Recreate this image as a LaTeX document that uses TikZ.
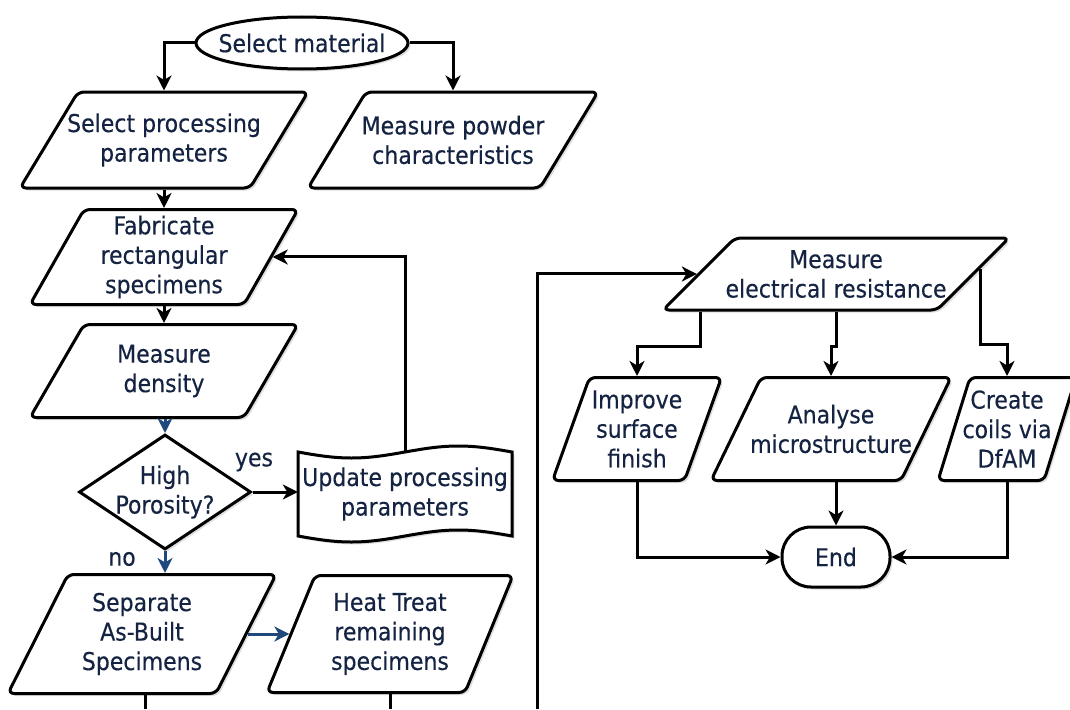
\documentclass[tikz,border=0pt]{standalone}
\usepackage{fontspec}
\setmainfont[FakeBold=0.3]{DejaVu Sans Condensed}
\usetikzlibrary{shapes.geometric,arrows.meta,shadows,calc}
\definecolor{txtc}{RGB}{20,35,65}
\definecolor{blu}{RGB}{31,73,125}
\tikzset{
  fnt/.style={text=txtc, font=\fontsize{24.5}{29.5}\selectfont, align=center},
  lbl/.style={fnt, inner sep=0pt},
  T/.style={label={[lbl]center:#1}},
  shd/.style={drop shadow={shadow xshift=2.5pt,shadow yshift=-2.5pt,opacity=0.25}},
  base/.style={draw=black, line width=3pt, fill=white, inner sep=0pt, shd},
  para/.style n args={4}{base, trapezium, trapezium stretches body, rounded corners=6pt,
     minimum width=#1pt,
     trapezium left angle={atan(#2/#3)}, trapezium right angle={180-atan(#2/#3)}, T={#4}},
  ell/.style={base, ellipse, minimum width=212pt, minimum height=52pt},
  term/.style={base, rectangle, rounded corners=29pt, minimum width=108pt, minimum height=60pt},
  dia/.style={base, diamond, minimum width=172pt, minimum height=115pt},
  ln/.style={draw=black, line width=3pt},
  arr/.style={ln, -{Stealth[length=15pt,width=15pt,inset=4.5pt]}},
  arrb/.style={arr, draw=blu},
}
\newcommand{\hh}[1]{\rule{0pt}{#1pt}}
\begin{document}
\begin{tikzpicture}[x=1pt,y=-1pt]
\useasboundingbox (0,0) rectangle (1070,709);

% nodes
\node[ell, T={Select material}] (selmat) at (302,43) {};
\node[para={288}{96}{58}{Select processing\\parameters}] (selproc) at (164,140) {\hh{96}};
\node[para={290}{96}{58}{Measure powder\\characteristics}] (powder) at (453,140) {\hh{96}};
\node[para={268}{95}{54}{Fabricate\\rectangular\\specimens}] (fab) at (164,257) {\hh{95}};
\node[para={268}{93}{54}{Measure\\density}] (density) at (164,371) {\hh{93}};
\node[dia, T={High\\Porosity?}] (dia) at (165,492) {};
% tape shape for update
\path[ln, fill=white, shd] (298,452) sin (351.5,458) cos (405,452) sin (458.5,446) cos (512,452)
   -- (512,536) sin (458.5,530) cos (405,536) sin (351.5,542) cos (298,536) -- cycle;
\node[fnt, minimum width=214pt, minimum height=84pt, inner sep=0pt] (update) at (405,494) {Update processing\\parameters};
\node[para={268}{119}{60}{Separate\\As-Built\\Specimens}] (sep) at (142,634) {\hh{119}};
\node[para={246}{117}{48}{Heat Treat\\remaining\\specimens}] (heat) at (390,634) {\hh{117}};
\node[para={346}{72}{72}{Measure\\electrical resistance}] (elec) at (836,274) {\hh{72}};
\node[para={169}{103}{37}{Improve\\surface\\finish}] (improve) at (637,429) {\hh{103}};
\node[para={240}{103}{50}{Analyse\\microstructure}] (analyse) at (831,429) {\hh{103}};
\node[para={138}{103}{32}{Create\\coils via\\DfAM}] (create) at (1007,429) {\hh{103}};
\node[term, T={End}] (end) at (836,557) {};

\node[lbl] (yes) at (254,462) {yes};
\node[lbl] (no) at (122,559) {no};

% connectors
\draw[arr] (selmat.west) -| (selproc.north);
\draw[arr] (selmat.east) -| (powder.north);
\draw[arr] (selproc.south) -- (fab.north);
\draw[arr] (fab.south) -- (density.north);
\draw[arrb] (density.south -| dia.north) -- (dia.north);
\draw[arr] (dia.east) -- (dia.east -| update.west);
\draw[arr] (update.north) |- (fab.east);
\draw[arrb] (dia.south) -- (dia.south |- sep.north);
\draw[arrb] (sep.east) -- (sep.east -| heat.west);
\coordinate (sepout) at (145,709);
\coordinate (heatout) at (390,709);
\coordinate (fb) at (537,709);
\draw[ln] (sep.south -| sepout) -- (sepout);
\draw[ln] (heat.south -| heatout) -- (heatout);
\draw[arr] (fb) |- (elec.west);
\draw[arr] ([xshift=-136pt]elec.south) -- ++(0,35) -| (improve.north);
\draw[arr] (elec.south) -- ++(0,35) -| (analyse.north);
\coordinate (er) at ($(elec.top right corner)!0.43!(elec.bottom right corner)$);
\draw[arr] (er) -- ++(0,76) -| (create.north);
\draw[arr] (improve.south) |- (end.west);
\draw[arr] (create.south) |- (end.east);
\draw[arr] (analyse.south -| end.north) -- (end.north);
\end{tikzpicture}
\end{document}
